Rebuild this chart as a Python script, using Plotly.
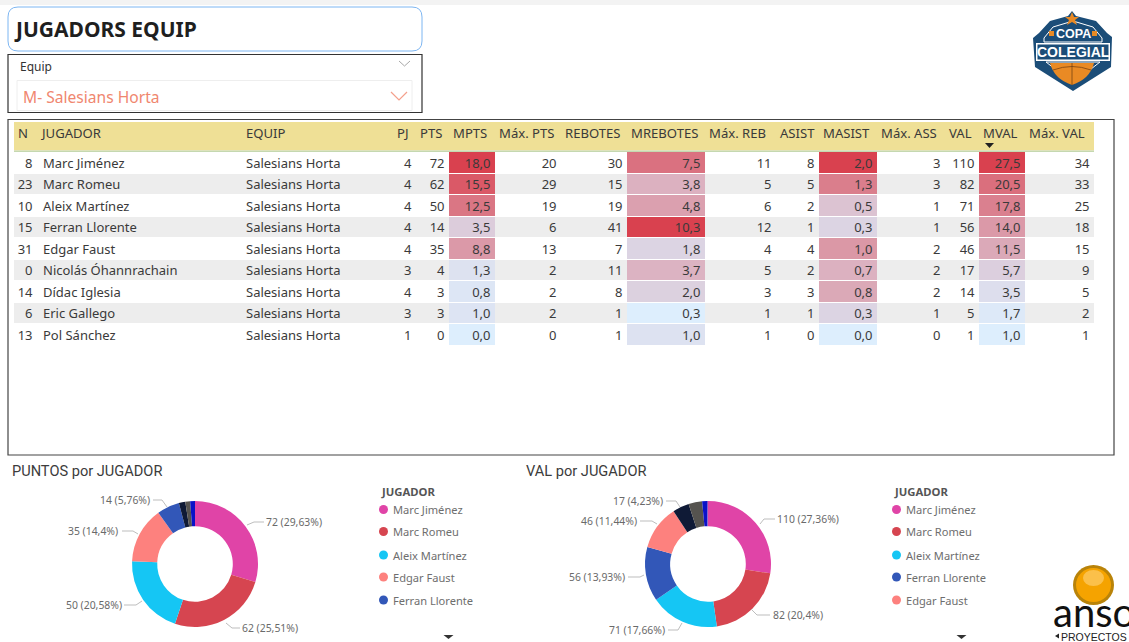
import plotly.graph_objects as go

W, H = 1129, 642

# ---------- data ----------
N = [8, 23, 10, 15, 31, 0, 14, 6, 13]
JUGADOR = ["Marc Jiménez", "Marc Romeu", "Aleix Martínez", "Ferran Llorente", "Edgar Faust",
           "Nicolás Óhannrachain", "Dídac Iglesia", "Eric Gallego", "Pol Sánchez"]
EQUIP = ["Salesians Horta"] * 9
PJ = [4, 4, 4, 4, 4, 3, 4, 3, 1]
PTS = [72, 62, 50, 14, 35, 4, 3, 3, 0]
MPTS = [18.0, 15.5, 12.5, 3.5, 8.8, 1.3, 0.8, 1.0, 0.0]
MAX_PTS = [20, 29, 19, 6, 13, 2, 2, 2, 0]
REBOTES = [30, 15, 19, 41, 7, 11, 8, 1, 1]
MREBOTES = [7.5, 3.8, 4.8, 10.3, 1.8, 3.7, 2.0, 0.3, 1.0]
MAX_REB = [11, 5, 6, 12, 4, 5, 3, 1, 1]
ASIST = [8, 5, 2, 1, 4, 2, 3, 1, 0]
MASIST = [2.0, 1.3, 0.5, 0.3, 1.0, 0.7, 0.8, 0.3, 0.0]
MAX_ASS = [3, 3, 1, 1, 2, 2, 2, 1, 0]
VAL = [110, 82, 71, 56, 46, 17, 14, 5, 1]
MVAL = [27.5, 20.5, 17.8, 14.0, 11.5, 5.7, 3.5, 1.7, 1.0]
MAX_VAL = [34, 33, 25, 18, 15, 9, 5, 2, 1]
HEADERS = ["N", "JUGADOR", "EQUIP", "PJ", "PTS", "MPTS", "Máx. PTS", "REBOTES", "MREBOTES", "Máx. REB",
           "ASIST", "MASIST", "Máx. ASS", "VAL", "MVAL", "Máx. VAL"]
PTS_ORDER = ["Marc Jiménez", "Marc Romeu", "Aleix Martínez", "Edgar Faust", "Ferran Llorente",
             "Nicolás Óhannrachain", "Dídac Iglesia", "Eric Gallego", "Pol Sánchez"]
VAL_ORDER = ["Marc Jiménez", "Marc Romeu", "Aleix Martínez", "Ferran Llorente", "Edgar Faust",
             "Nicolás Óhannrachain", "Dídac Iglesia", "Eric Gallego", "Pol Sánchez"]
PLAYER_COLORS = {"Marc Jiménez": "#E044A7", "Marc Romeu": "#D64550", "Aleix Martínez": "#15C6F4",
                 "Edgar Faust": "#FD817E", "Ferran Llorente": "#3257B8", "Nicolás Óhannrachain": "#0F1A36",
                 "Dídac Iglesia": "#55534F", "Eric Gallego": "#0A12C8", "Pol Sánchez": "#744EC2"}

# ---------- layout constants ----------
FONT = "Noto Sans, Open Sans, sans-serif"
EDGES = [14, 37, 243, 393, 416, 449, 495, 561, 627, 705, 776, 819, 877, 945, 979, 1025, 1094]
ROW_TOP, ROW_BOTTOM = 152, 345.5
TXT = "#3A3A3A"
NAVY = "#1B4D78"
ORANGE = "#E98A24"

shapes, annots = [], []


def rect(x0, y0, x1, y1, line=None, fill=None, lw=1):
    shapes.append(dict(type="rect", xref="x", yref="y2", x0=x0, y0=y0, x1=x1, y1=y1,
                       line=dict(color=line or "rgba(0,0,0,0)", width=lw if line else 0),
                       fillcolor=fill or "rgba(0,0,0,0)"))


def path(d, line=None, fill=None, lw=1):
    shapes.append(dict(type="path", xref="x", yref="y2", path=d,
                       line=dict(color=line or "rgba(0,0,0,0)", width=lw if line else 0),
                       fillcolor=fill or "rgba(0,0,0,0)"))


def poly(pts, closed=False, **kw):
    d = "M" + " L".join(f"{x},{y}" for x, y in pts) + (" Z" if closed else "")
    path(d, **kw)


def label(x, y, s, size=13, color=TXT, anchor="left", family=FONT, bold=False):
    nudge = {"left": -1, "right": 1, "center": 0}[anchor]
    annots.append(dict(xref="x", yref="y2", x=x + nudge, y=y, text=f"<b>{s}</b>" if bold else s, showarrow=False,
                       xanchor=anchor, yanchor="middle", borderpad=0,
                       font=dict(size=size, color=color, family=family)))


def dec(vals):
    return [f"{v:.1f}".replace(".", ",") for v in vals]


def pct(v, total):
    s = f"{100 * v / total:.2f}".rstrip("0").rstrip(".")
    return f"{v} ({s.replace('.', ',')}%)"


# ---------- page furniture ----------
rect(0, 0, W, 5, fill="#F3F3F3")
shapes.append(dict(type="path", xref="x", yref="y2",
                   path="M18,7 L412,7 Q422,7 422,17 L422,41 Q422,51 412,51 L18,51 Q8,51 8,41 L8,17 Q8,7 18,7 Z",
                   line=dict(color="#7DB6F2", width=1), fillcolor="white"))
label(14, 29, "JUGADORS EQUIP", size=21, color="#1F1F1F", bold=True)
rect(8, 54.5, 422, 112.5, line="#333333", lw=1.2)
rect(17, 80.5, 412, 110.5, line="#EEEEEE")
label(20, 66, "Equip", size=12, color="#333333")
label(23, 97, "M- Salesians Horta", size=15.6, color="#F0876F")
poly([(399, 61), (404.5, 66), (410, 61)], line="#A8A8A8", lw=1)
poly([(391, 92), (399, 100), (407, 92)], line="#F4A08C", lw=1.2)
rect(8, 119.5, 1114, 455, line="#444444", lw=1.2)

# ---------- table header ----------
rect(EDGES[0], 122, EDGES[-1], 150.5, fill="#EFE096")
rect(EDGES[0], 150.5, EDGES[-1], 152, fill="#C5D8B0")
for i, h in enumerate(HEADERS):
    label(EDGES[i] + (2.5 if i in (1, 2) else 3.5), 133, h, size=13.1)
poly([(985, 143), (994, 143), (989.5, 148)], closed=True, fill="#222222")

# ---------- table body ----------
TEXT_COLS = [N, None, None, PJ, PTS, dec(MPTS), MAX_PTS, REBOTES, dec(MREBOTES), MAX_REB,
             ASIST, dec(MASIST), MAX_ASS, VAL, dec(MVAL), MAX_VAL]
rows = list(range(len(N)))
text_rows = [r + 0.08 for r in rows]
band = [[i % 2] * (len(EDGES) - 1) for i in rows]
HEAT = {5: MPTS, 8: MREBOTES, 11: MASIST, 14: MVAL}
heat = []
for r in rows:
    row = []
    for c in range(len(EDGES) - 1):
        if c in HEAT:
            v = HEAT[c]
            row.append((v[r] - min(v)) / (max(v) - min(v)))
        else:
            row.append(None)
    heat.append(row)

traces = [
    go.Heatmap(x=EDGES, y=[r - 0.5 for r in rows] + [len(rows) - 0.5], z=band, zmin=0, zmax=1,
               colorscale=[[0, "#FFFFFF"], [1, "#EDEDED"]], showscale=False, hoverinfo="skip", ygap=1),
    go.Heatmap(x=EDGES, y=[r - 0.5 for r in rows] + [len(rows) - 0.5], z=heat, zmin=0, zmax=1,
               colorscale=[[0, "#DDEEFD"], [1, "#D9414F"]], showscale=False, hoverinfo="skip",
               ygap=1, hoverongaps=False),
]
for c, col in enumerate(TEXT_COLS):
    if col is None:
        continue
    traces.append(go.Scatter(x=[EDGES[c + 1] - 4.5] * len(rows), y=text_rows, mode="text", text=[str(v) for v in col],
                             textposition="middle left", textfont=dict(size=13, color=TXT, family=FONT),
                             hoverinfo="skip", showlegend=False, cliponaxis=False))
for x, col in ((43, JUGADOR), (246, EQUIP)):
    traces.append(go.Scatter(x=[x] * len(rows), y=text_rows, mode="text", text=col,
                             textposition="middle right", textfont=dict(size=13, color=TXT, family=FONT),
                             hoverinfo="skip", showlegend=False, cliponaxis=False))

# ---------- donuts ----------
lookup_pts = dict(zip(JUGADOR, PTS))
lookup_val = dict(zip(JUGADOR, VAL))
DONUTS = [
    dict(order=PTS_ORDER, lookup=lookup_pts, x0=132, title="PUNTOS por JUGADOR", tx=12, lx=381,
         leaders=[([(247, 525), (254, 522), (264, 522)], 266, "left", 522),
                  ([(226, 623), (232, 628), (240, 628)], 242, "left", 628),
                  ([(142, 601), (136, 605), (124, 605)], 122, "right", 605),
                  ([(138, 534), (133, 531), (122, 531)], 118, "right", 531),
                  ([(167, 507), (162, 500), (153, 500)], 150, "right", 500)]),
    dict(order=VAL_ORDER, lookup=lookup_val, x0=645, title="VAL por JUGADOR", tx=526, lx=894,
         leaders=[([(760, 524), (764, 519), (775, 519)], 777, "left", 519),
                  ([(751, 609), (757, 615), (770, 615)], 773, "left", 615),
                  ([(682, 623), (678, 630), (668, 630)], 665, "right", 630),
                  ([(644, 575), (640, 577), (628, 577)], 625, "right", 577),
                  ([(657, 524), (652, 521), (640, 521)], 637, "right", 521),
                  ([(680, 507), (676, 501), (666, 501)], 663, "right", 501)]),
]
LEGEND_Y = [509.5, 531.5, 555, 577, 600]
for d in DONUTS:
    vals = [d["lookup"][p] for p in d["order"]]
    total = sum(vals)
    traces.append(go.Pie(labels=d["order"], values=vals, hole=0.6, sort=False, direction="clockwise", rotation=0,
                         marker=dict(colors=[PLAYER_COLORS[p] for p in d["order"]], line=dict(width=0)),
                         textinfo="none", hoverinfo="skip", showlegend=False,
                         domain=dict(x=[d["x0"] / W, (d["x0"] + 126) / W], y=[1 - 627 / H, 1 - 501 / H])))
    for (pts, tx, anc, ty), v in zip(d["leaders"], vals):
        poly(pts, line="#BDBDBD", lw=1)
        label(tx, ty, pct(v, total), size=10.4, color="#6A6A6A", anchor=anc)
    label(d["tx"], 470.5, d["title"], size=14.6, color="#3C3C3C", family="Roboto, sans-serif")
    label(d["lx"], 491, "JUGADOR", size=11.3, color="#555555", bold=True)
    cx = d["lx"] + 2.5
    for name, y in zip(d["order"][:5], LEGEND_Y):
        shapes.append(dict(type="circle", xref="x", yref="y2", x0=cx - 4.5, x1=cx + 4.5, y0=y - 4.5, y1=y + 4.5,
                           fillcolor=PLAYER_COLORS[name], line=dict(width=0)))
        label(cx + 9.5, y, name, size=11.1, color="#6E6E6E")
    poly([(d["lx"] + 62.5, 635), (d["lx"] + 72.5, 635), (d["lx"] + 67.5, 639)], closed=True, fill="#333333")

# ---------- COPA COLEGIAL badge ----------
poly([(1072, 11), (1076, 16), (1096, 21), (1107, 33), (1112, 37), (1111, 67), (1073, 91), (1035, 67),
      (1033, 38), (1039, 33), (1050, 21), (1068, 16)], closed=True, fill=NAVY)
poly([(1073, 21), (1093, 27), (1102, 38), (1102, 42), (1044, 42), (1044, 38), (1053, 27)], closed=True,
     line="#FFFFFF", lw=1)
poly([(1046, 62), (1100, 62), (1073, 83)], closed=True, line="#FFFFFF", lw=1)
poly([(1072, 12), (1074, 17), (1079, 17), (1075, 20), (1077, 25), (1072, 22), (1067, 25), (1069, 20), (1065, 17),
      (1070, 17)], closed=True, fill=ORANGE)
rect(1049, 31, 1054, 36, fill=ORANGE)
rect(1092, 31, 1097, 36, fill=ORANGE)
path("M1050,63 L1094,63 Q1090,79 1072,85 Q1054,79 1050,63 Z", fill=ORANGE)
path("M1072,63 L1072,85 M1053,70 Q1072,63 1091,70", line="#6B3A10", lw=0.7)
rect(1036, 43, 1110, 61, fill="#FFFFFF")
rect(1037.5, 44.5, 1108.5, 59.5, fill=NAVY)
label(1073, 33.5, "COPA", size=12.5, color="#FFFFFF", anchor="center", bold=True, family="Liberation Sans, sans-serif")
label(1073, 52, "COLEGIAL", size=14, color="#FFFFFF", anchor="center", bold=True, family="Liberation Sans, sans-serif")

# ---------- ANSO mark ----------
shapes.append(dict(type="circle", xref="x", yref="y2", x0=1073, x1=1114, y0=565, y1=605,
                   fillcolor="#B98309", line=dict(width=0)))
shapes.append(dict(type="circle", xref="x", yref="y2", x0=1076, x1=1111, y0=568, y1=602,
                   fillcolor="#F5A300", line=dict(width=0)))
shapes.append(dict(type="circle", xref="x", yref="y2", x0=1083, x1=1104, y0=570, y1=586,
                   fillcolor="#FBC04A", line=dict(width=0)))
label(1053, 612, "anso", size=40, color="#111111", family="Lato, sans-serif")
poly([(1055, 636), (1059, 633.5), (1059, 638.5)], closed=True, fill="#222222")
label(1060.5, 636.5, "PROYECTOS", size=10.5, color="#222222", family="Liberation Sans, sans-serif")

fig = go.Figure(traces)
fig.update_layout(
    width=W, height=H, margin=dict(l=0, r=0, t=0, b=0, pad=0), paper_bgcolor="white", plot_bgcolor="rgba(0,0,0,0)",
    showlegend=False, shapes=shapes, annotations=annots,
    xaxis=dict(range=[0, W], domain=[0, 1], visible=False, fixedrange=True),
    yaxis=dict(range=[len(N) - 0.5, -0.5], domain=[1 - ROW_BOTTOM / H, 1 - ROW_TOP / H], visible=False,
               fixedrange=True, anchor="x"),
    yaxis2=dict(range=[H, 0], domain=[0, 1], visible=False, fixedrange=True, anchor="x"),
)
fig.write_html("out.html", post_script="document.body.style.margin='0';document.body.style.overflow='hidden';",
               config=dict(displayModeBar=False))
